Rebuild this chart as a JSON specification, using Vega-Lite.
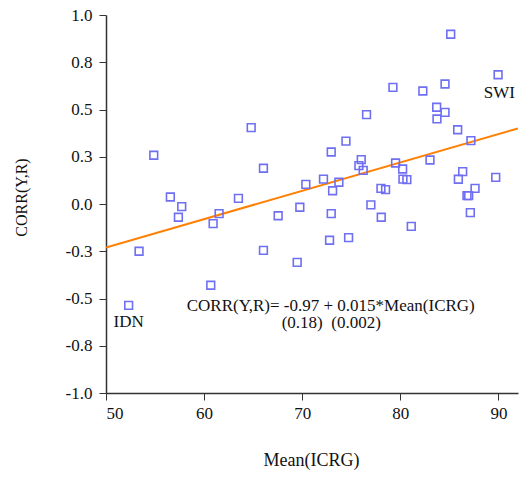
{
  "$schema": "https://vega.github.io/schema/vega-lite/v6.json",
  "width": 412,
  "height": 378,
  "autosize": {"type": "none"},
  "padding": {"left": 106, "top": 15, "right": 1, "bottom": 84},
  "background": "white",
  "config": {
    "view": {"stroke": null},
    "font": "Liberation Serif",
    "locale": {"number": {"decimal": ".", "thousands": ",", "grouping": [3], "currency": ["$", ""], "minus": "-"}},
    "style": {
      "guide-label": {"font": "Liberation Serif", "fontSize": 17},
      "guide-title": {"font": "Liberation Serif"}
    },
    "axis": {
      "grid": false,
      "domainColor": "#333333",
      "domainWidth": 1.5,
      "tickColor": "#333333",
      "tickSize": 7,
      "labelFont": "Liberation Serif",
      "titleFont": "Liberation Serif",
      "labelColor": "#111111",
      "titleColor": "#111111",
      "labelFontSize": 17,
      "titleFontSize": 17,
      "titleFontWeight": "normal"
    }
  },
  "datasets": {
    "points": [
      {"icrg": 52.31, "corr": -0.536},
      {"icrg": 53.37, "corr": -0.250},
      {"icrg": 54.87, "corr": 0.258},
      {"icrg": 56.56, "corr": 0.037},
      {"icrg": 57.72, "corr": -0.014},
      {"icrg": 57.38, "corr": -0.070},
      {"icrg": 60.68, "corr": -0.430},
      {"icrg": 60.92, "corr": -0.104},
      {"icrg": 61.53, "corr": -0.051},
      {"icrg": 63.5, "corr": 0.030},
      {"icrg": 64.8, "corr": 0.404},
      {"icrg": 66.05, "corr": 0.189},
      {"icrg": 66.05, "corr": -0.245},
      {"icrg": 67.55, "corr": -0.062},
      {"icrg": 69.49, "corr": -0.309},
      {"icrg": 69.76, "corr": -0.017},
      {"icrg": 70.37, "corr": 0.104},
      {"icrg": 72.17, "corr": 0.132},
      {"icrg": 72.79, "corr": -0.192},
      {"icrg": 72.96, "corr": -0.051},
      {"icrg": 72.96, "corr": 0.275},
      {"icrg": 73.1, "corr": 0.070},
      {"icrg": 73.74, "corr": 0.115},
      {"icrg": 74.46, "corr": 0.333},
      {"icrg": 74.73, "corr": -0.178},
      {"icrg": 75.78, "corr": 0.203},
      {"icrg": 76.02, "corr": 0.235},
      {"icrg": 76.22, "corr": 0.178},
      {"icrg": 76.56, "corr": 0.473},
      {"icrg": 77.0, "corr": -0.005},
      {"icrg": 78.03, "corr": 0.083},
      {"icrg": 78.06, "corr": -0.070},
      {"icrg": 78.5, "corr": 0.076},
      {"icrg": 79.25, "corr": 0.617},
      {"icrg": 79.52, "corr": 0.217},
      {"icrg": 80.24, "corr": 0.185},
      {"icrg": 80.27, "corr": 0.132},
      {"icrg": 80.67, "corr": 0.129},
      {"icrg": 81.12, "corr": -0.118},
      {"icrg": 82.3, "corr": 0.598},
      {"icrg": 83.03, "corr": 0.233},
      {"icrg": 83.71, "corr": 0.512},
      {"icrg": 83.74, "corr": 0.450},
      {"icrg": 84.56, "corr": 0.635},
      {"icrg": 84.56, "corr": 0.485},
      {"icrg": 85.14, "corr": 0.898},
      {"icrg": 85.85, "corr": 0.393},
      {"icrg": 85.92, "corr": 0.131},
      {"icrg": 86.36, "corr": 0.171},
      {"icrg": 86.8, "corr": 0.044},
      {"icrg": 86.97, "corr": 0.044},
      {"icrg": 87.14, "corr": -0.046},
      {"icrg": 87.2, "corr": 0.335},
      {"icrg": 87.62, "corr": 0.083},
      {"icrg": 89.73, "corr": 0.141},
      {"icrg": 89.97, "corr": 0.684}
    ],
    "fit": [
      {"icrg": 50, "corr": -0.23},
      {"icrg": 92, "corr": 0.40}
    ],
    "labels": [
      {"icrg": 90.1, "corr": 0.589, "text": "SWI"},
      {"icrg": 52.31, "corr": -0.624, "text": "IDN"},
      {"icrg": 72.91, "corr": -0.540, "text": "CORR(Y,R)= -0.97 + 0.015*Mean(ICRG)"},
      {"icrg": 72.96, "corr": -0.632, "text": "(0.18)\u00a0\u00a0(0.002)"}
    ]
  },
  "layer": [
    {
      "data": {"name": "fit"},
      "mark": {"type": "line", "color": "#ff7f00", "strokeWidth": 2, "clip": true},
      "encoding": {
        "x": {
          "field": "icrg", "type": "quantitative",
          "scale": {"domain": [50, 92], "nice": false, "zero": false},
          "axis": {
            "values": [50, 60, 70, 80, 90],
            "title": "Mean(ICRG)",
            "labelFont": "Liberation Serif",
            "labelPadding": 5,
            "titleFontSize": 18,
            "titleX": 205, "titleY": 67, "titleAlign": "center", "titleBaseline": "middle"
          }
        },
        "y": {
          "field": "corr", "type": "quantitative",
          "scale": {"domain": [-1, 1], "nice": false, "zero": false},
          "axis": {
            "values": [-1, -0.75, -0.5, -0.25, 0, 0.25, 0.5, 0.75, 1],
            "format": ".1f",
            "title": "CORR(Y,R)",
            "labelFont": "Liberation Serif",
            "titleFontSize": 16,
            "labelPadding": 7,
            "titleX": -85, "titleY": 182, "titleAlign": "center", "titleBaseline": "middle", "titleAngle": -90
          }
        }
      }
    },
    {
      "data": {"name": "points"},
      "mark": {"type": "point", "shape": "square", "filled": false, "color": "#6f6ff2", "strokeWidth": 1.6, "size": 60, "opacity": 1},
      "encoding": {
        "x": {"field": "icrg", "type": "quantitative"},
        "y": {"field": "corr", "type": "quantitative"}
      }
    },
    {
      "data": {"name": "labels"},
      "mark": {"type": "text", "font": "Liberation Serif", "fontSize": 17, "align": "center", "baseline": "middle", "color": "#111111"},
      "encoding": {
        "x": {"field": "icrg", "type": "quantitative"},
        "y": {"field": "corr", "type": "quantitative"},
        "text": {"field": "text"}
      }
    }
  ]
}
